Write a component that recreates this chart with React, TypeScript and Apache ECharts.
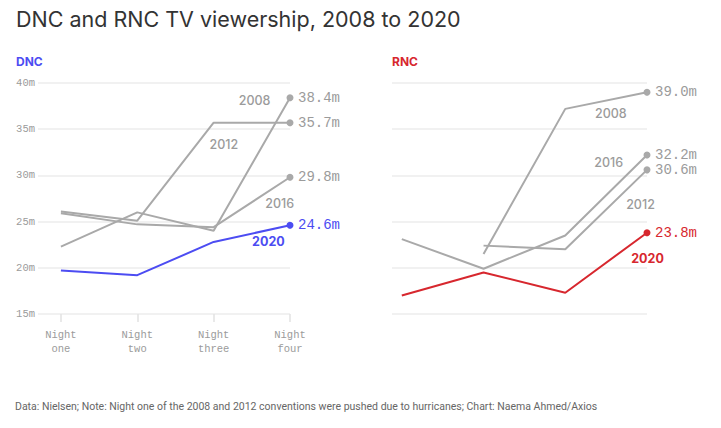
import React, { useEffect, useRef } from "react";
import * as echarts from "echarts";

const nights = ["Night\none", "Night\ntwo", "Night\nthree", "Night\nfour"];
const years = ["2008", "2012", "2016", "2020"];

const dnc2008 = [22.3, 26.0, 24.0, 38.4];
const dnc2012 = [26.1, 25.1, 35.7, 35.7];
const dnc2016 = [25.9, 24.7, 24.4, 29.8];
const dnc2020 = [19.7, 19.2, 22.8, 24.6];

const rnc2008 = [null, 21.5, 37.2, 39.0];
const rnc2012 = [null, 22.4, 22.0, 30.6];
const rnc2016 = [23.1, 19.9, 23.5, 32.2];
const rnc2020 = [17.0, 19.5, 17.3, 23.8];

const yTicks = [15, 20, 25, 30, 35, 40];

const GRAY = "#a9a9a9";
const GRAY_TEXT = "#9b9b9b";
const BLUE = "#4c4cf2";
const RED = "#d7272e";
const MONO = "'Liberation Mono', 'DejaVu Sans Mono', monospace";
const SANS = "Inter, Roboto, 'Noto Sans', sans-serif";

function toPoints(vals: (number | null)[]) {
  const out: [number, number][] = [];
  vals.forEach((v, i) => {
    if (v !== null && v !== undefined) out.push([i, v]);
  });
  return out;
}

function makeSeries(vals: (number | null)[], color: string, labelColor: string, axisIdx: number, name: string, z: number) {
  const data = toPoints(vals);
  const lastIdx = data.length - 1;
  return {
    type: "line",
    name,
    xAxisIndex: axisIdx,
    yAxisIndex: axisIdx,
    data,
    z,
    symbol: "circle",
    symbolSize: (_v: any, p: any) => (p.dataIndex === lastIdx ? 7 : 0),
    showAllSymbol: true,
    itemStyle: { color },
    lineStyle: { color, width: 2 },
    emphasis: { disabled: true },
    endLabel: {
      show: true,
      distance: 8,
      formatter: (p: any) => p.value[1].toFixed(1) + "m",
      color: labelColor,
      fontFamily: MONO,
      fontSize: 14,
      verticalAlign: "middle",
    },
  };
}

const yearLabelPos = {
  dnc: [
    [254.6, 100.5],
    [223.8, 144],
    [279.7, 203],
    [268.4, 241.5],
  ],
  rnc: [
    [610.8, 113],
    [640.5, 204.7],
    [608.7, 162.8],
    [647.5, 258.7],
  ],
};

export default function App() {
  const ref = useRef<HTMLDivElement>(null);
  useEffect(() => {
    document.body.style.margin = "0";
    if (!ref.current) return;
    const chart = echarts.init(ref.current, null, { renderer: "svg" });

    const yAxisBase = (gi: number, showLabel: boolean) => ({
      type: "value",
      gridIndex: gi,
      min: 15,
      max: 40,
      interval: 5,
      axisLine: { show: false },
      axisTick: { show: false },
      splitLine: { show: true, lineStyle: { color: "#ececec", width: 1.5 } },
      axisLabel: {
        show: showLabel,
        formatter: (v: number) => (yTicks.includes(v) ? v + "m" : ""),
        color: GRAY_TEXT,
        fontFamily: MONO,
        fontSize: 10.5,
        margin: 3,
        verticalAlign: "middle",
        padding: [0, 0, 6, 0],
      },
    });

    const yearText = (x: number, y: number, text: string, color: string, bold: boolean) => ({
      type: "text",
      x,
      y,
      silent: true,
      style: {
        text,
        fill: color,
        font: `${bold ? 700 : 500} 12.5px ${SANS}`,
        align: "center",
        verticalAlign: "middle",
      },
    });

    const graphics: any[] = [
      {
        type: "text",
        x: 16,
        y: 18.5,
        style: {
          text: "DNC and RNC TV viewership, 2008 to 2020",
          fill: "#333333",
          font: `400 21.5px ${SANS}`,
          verticalAlign: "middle",
        },
      },
      {
        type: "text",
        x: 16,
        y: 61,
        style: { text: "DNC", fill: BLUE, font: `700 12px ${SANS}`, verticalAlign: "middle" },
      },
      {
        type: "text",
        x: 392,
        y: 61,
        style: { text: "RNC", fill: RED, font: `700 12px ${SANS}`, verticalAlign: "middle" },
      },
      {
        type: "text",
        x: 15,
        y: 406.5,
        style: {
          text: "Data: Nielsen; Note: Night one of the 2008 and 2012 conventions were pushed due to hurricanes; Chart: Naema Ahmed/Axios",
          fill: "#666666",
          font: `400 10.5px Roboto, sans-serif`,
          verticalAlign: "middle",
        },
      },
    ];
    years.forEach((yr, i) => {
      const last = i === 3;
      const [dx, dy] = yearLabelPos.dnc[i];
      graphics.push(yearText(dx, dy, yr, last ? BLUE : GRAY_TEXT, last));
      const [rx, ry] = yearLabelPos.rnc[i];
      graphics.push(yearText(rx, ry, yr, last ? RED : GRAY_TEXT, last));
    });

    const option: any = {
      animation: false,
      grid: [
        { left: 38, top: 83, width: 252, height: 231 },
        { left: 392, top: 83, width: 255, height: 231 },
      ],
      xAxis: [
        {
          type: "value",
          gridIndex: 0,
          min: -0.3,
          max: 3,
          splitLine: { show: false },
          axisLine: { show: false },
          axisTick: {
            show: true,
            customValues: [0, 1, 2, 3],
            length: 8,
            lineStyle: { color: "#e2e2e2", width: 1.5 },
          },
          axisLabel: {
            show: true,
            customValues: [0, 1, 2, 3],
            formatter: (v: number) => nights[Math.round(v)] ?? "",
            color: GRAY_TEXT,
            fontFamily: MONO,
            fontSize: 10.5,
            lineHeight: 14,
            margin: 14,
          },
        },
        {
          type: "value",
          gridIndex: 1,
          min: -0.12,
          max: 3,
          splitLine: { show: false },
          axisLine: { show: false },
          axisTick: { show: false },
          axisLabel: { show: false },
        },
      ],
      yAxis: [yAxisBase(0, true), yAxisBase(1, false)],
      series: [
        makeSeries(dnc2008, GRAY, GRAY_TEXT, 0, "DNC 2008", 2),
        makeSeries(dnc2012, GRAY, GRAY_TEXT, 0, "DNC 2012", 2),
        makeSeries(dnc2016, GRAY, GRAY_TEXT, 0, "DNC 2016", 2),
        makeSeries(dnc2020, BLUE, BLUE, 0, "DNC 2020", 3),
        makeSeries(rnc2008, GRAY, GRAY_TEXT, 1, "RNC 2008", 2),
        makeSeries(rnc2012, GRAY, GRAY_TEXT, 1, "RNC 2012", 2),
        makeSeries(rnc2016, GRAY, GRAY_TEXT, 1, "RNC 2016", 2),
        makeSeries(rnc2020, RED, RED, 1, "RNC 2020", 3),
      ],
      graphic: graphics,
    };
    chart.setOption(option);
    return () => chart.dispose();
  }, []);
  return <div ref={ref} style={{ width: 721, height: 428 }} />;
}
